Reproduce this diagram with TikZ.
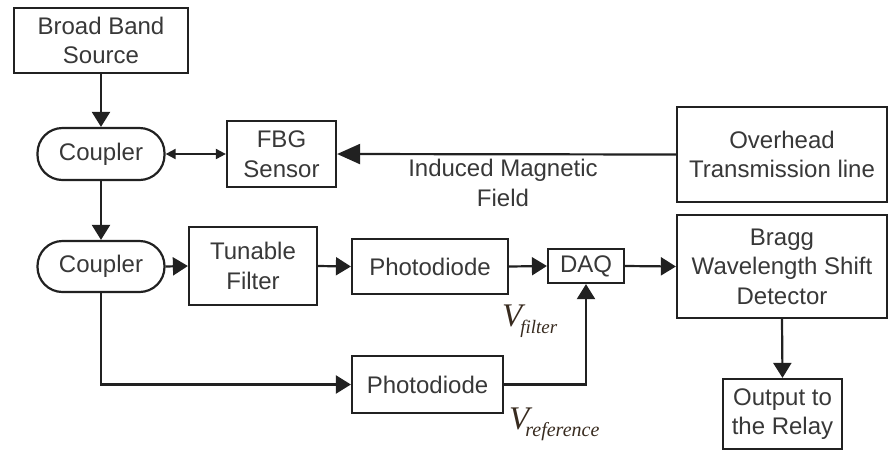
\documentclass[tikz,border=0pt]{standalone}
\usepackage{fontspec}
\setmainfont{Liberation Sans}
\newfontfamily\tnr{Liberation Serif}
\usetikzlibrary{arrows.meta}
\definecolor{txt}{gray}{0.22}
\definecolor{ln}{gray}{0.13}
\definecolor{vcol}{rgb}{0.22,0.17,0.12}
\tikzset{
  blk/.style={draw=ln, line width=2.2pt, fill=white, align=center, text=txt, inner sep=0pt,
    font=\fontsize{24}{29.5}\selectfont},
  cpl/.style={blk, rounded corners=25pt},
  arr/.style={draw=ln, line width=2.2pt, -{Triangle[length=15pt,width=18pt]}},
  darr/.style={draw=ln, line width=1.8pt, {Triangle[length=10pt,width=10pt]}-{Triangle[length=10pt,width=10pt]}},
  bigarr/.style={draw=ln, line width=2.2pt, -{Triangle[length=23pt,width=20pt]}},
  lbl/.style={align=center, text=txt, inner sep=0pt, font=\fontsize{24}{29.5}\selectfont},
}
\begin{document}
\begin{tikzpicture}[x=1pt,y=-1pt]
\useasboundingbox (0,0) rectangle (889,451);
\node[blk, minimum width=174pt, minimum height=65pt] (bbs) at (101,40.5) {Broad Band\\Source};
\node[cpl, minimum width=127pt, minimum height=52pt] (c1) at (101,154) {Coupler};
\node[blk, minimum width=109pt, minimum height=66pt] (fbg) at (281.5,154) {FBG\\Sensor};
\node[blk, minimum width=210pt, minimum height=95pt] (oh) at (782,154.5) {Overhead\\Transmission line};
\node[lbl] (imf) at (503,183) {Induced Magnetic\\Field};
\node[cpl, minimum width=127pt, minimum height=51pt] (c2) at (101,266.5) {Coupler};
\node[blk, minimum width=128pt, minimum height=78pt] (tf) at (253,266) {Tunable\\Filter};
\node[blk, minimum width=156pt, minimum height=55pt] (pd1) at (430,266.5) {Photodiode};
\node[blk, minimum width=76pt, minimum height=34pt] (daq) at (586,266) {DAQ};
\node[blk, minimum width=210pt, minimum height=103pt] (bragg) at (782,266.5) {Bragg\\Wavelength Shift\\Detector};
\node[blk, minimum width=119pt, minimum height=70pt] (out) at (782.5,414) {Output to\\the Relay};
\node[blk, minimum width=151pt, minimum height=57pt] (pd2) at (427.5,384.5) {Photodiode};
\node[anchor=base west, inner sep=0pt, text=vcol] (vf) at (502,326)
  {{\tnr\itshape\fontsize{33}{33}\selectfont V}\kern-2pt\raisebox{-7pt}{\tnr\itshape\fontsize{19}{19}\selectfont filter}};
\node[anchor=base west, inner sep=0pt, text=vcol] (vr) at (509,429)
  {{\tnr\itshape\fontsize{33}{33}\selectfont V}\kern-4pt\raisebox{-7pt}{\tnr\itshape\fontsize{20}{20}\selectfont reference}};
\draw[arr] (bbs.south) -- (c1.north);
\draw[darr] (c1.east) -- (fbg.west);
\draw[bigarr] (oh.west) -- (fbg.east);
\draw[arr] (c1.south) -- (c2.north);
\draw[arr] (c2.east) -- (tf.west);
\draw[arr] (tf.east) -- (pd1.west);
\draw[arr] (pd1.east) -- (daq.west);
\draw[arr] (daq.east) -- (bragg.west);
\draw[arr] (bragg.south) -- (out.north);
\draw[arr] (c2.south) |- (pd2.west);
\draw[arr] (pd2.east) -| (daq.south);
\end{tikzpicture}
\end{document}
